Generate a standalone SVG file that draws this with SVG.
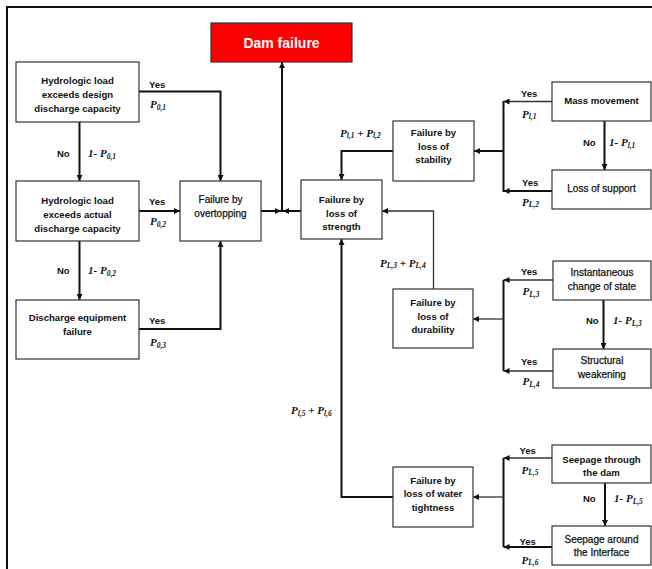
<svg xmlns="http://www.w3.org/2000/svg" width="652" height="569" viewBox="0 0 652 569">
<defs>
<marker id="ah" viewBox="0 0 7 7" refX="7" refY="3.5" markerWidth="7" markerHeight="6" markerUnits="userSpaceOnUse" orient="auto">
<path d="M0,0 L7,3.5 L0,7 z" fill="#111"/>
</marker>
</defs>
<style>
.box{fill:#fff;stroke:#333;stroke-width:1.2}
.t{font-family:"Liberation Sans",Arial,sans-serif;font-size:10px;fill:#111;text-anchor:middle}
.b{font-weight:bold;font-size:9.6px}
.r{font-weight:normal;stroke:#111;stroke-width:0.25}
.lab{font-family:"Liberation Sans",Arial,sans-serif;font-size:9.5px;font-weight:bold;fill:#111}
.p{font-family:"Liberation Serif","Times New Roman",serif;font-size:11px;font-weight:bold;font-style:italic;fill:#111}
.s{font-size:7.5px}
.c{fill:none;stroke:#111;stroke-width:2}
.c1{fill:none;stroke:#333;stroke-width:1.3}
</style>
<rect width="652" height="569" fill="#fff"/>
<path d="M7,569 V7 H652" fill="none" stroke="#111" stroke-width="2"/>

<g id="connectors">
<path class="c" d="M139,91.5 H220.5 V181" marker-end="url(#ah)"/>
<path class="c" d="M79.5,122 V181" marker-end="url(#ah)"/>
<path class="c" d="M139,211 H180" marker-end="url(#ah)"/>
<path class="c" d="M79.5,241 V300" marker-end="url(#ah)"/>
<path class="c" d="M139,329 H220.5 V241" marker-end="url(#ah)"/>
<path class="c" d="M261,211 H281" marker-end="url(#ah)"/>
<path class="c" d="M301,211 H283" marker-end="url(#ah)"/>
<path class="c" d="M282,212 V62" marker-end="url(#ah)"/>
<path class="c" d="M393,151 H341.5 V180" marker-end="url(#ah)"/>
<path class="c" d="M503.5,101 V192"/>
<path class="c" d="M503.5,151 H474" marker-end="url(#ah)"/>
<path class="c1" d="M552,101.5 H503.5" marker-end="url(#ah)"/>
<path class="c" d="M604.5,121 V170" marker-end="url(#ah)"/>
<path class="c" d="M552,191 H503.5" marker-end="url(#ah)"/>
<path class="c1" d="M433.5,289 V211 H382" marker-end="url(#ah)"/>
<path class="c" d="M503.5,280 V371"/>
<path class="c1" d="M503.5,319 H473" marker-end="url(#ah)"/>
<path class="c1" d="M553,280 H503.5" marker-end="url(#ah)"/>
<path class="c" d="M603.5,300 V349" marker-end="url(#ah)"/>
<path class="c1" d="M553,371 H503.5" marker-end="url(#ah)"/>
<path class="c" d="M393,497 H341.5 V239" marker-end="url(#ah)"/>
<path class="c" d="M503.5,458 V547"/>
<path class="c1" d="M503.5,497 H473" marker-end="url(#ah)"/>
<path class="c1" d="M552,458 H503.5" marker-end="url(#ah)"/>
<path class="c" d="M605,483 V526" marker-end="url(#ah)"/>
<path class="c" d="M552,547 H503.5" marker-end="url(#ah)"/>
</g>

<g id="edge-labels">
<text class="lab" x="149" y="88">Yes</text>
<text class="p" x="150" y="108">P<tspan class="s" dy="1.5">0,1</tspan></text>
<text class="lab" x="57" y="157">No</text>
<text class="p" x="88" y="157">1- P<tspan class="s" dy="1.5">0,1</tspan></text>
<text class="lab" x="149" y="205">Yes</text>
<text class="p" x="150" y="225">P<tspan class="s" dy="1.5">0,2</tspan></text>
<text class="lab" x="57" y="274">No</text>
<text class="p" x="88" y="274">1- P<tspan class="s" dy="1.5">0,2</tspan></text>
<text class="lab" x="149" y="324">Yes</text>
<text class="p" x="150" y="346">P<tspan class="s" dy="1.5">0,3</tspan></text>

<text class="p" x="340" y="136.5">P<tspan class="s" dy="1.5">l,1</tspan><tspan dy="-1.5"> + P</tspan><tspan class="s" dy="1.5">l,2</tspan></text>
<text class="lab" x="521" y="97">Yes</text>
<text class="p" x="522" y="117.5">P<tspan class="s" dy="1.5">l,1</tspan></text>
<text class="lab" x="583" y="146">No</text>
<text class="p" x="609" y="146">1- P<tspan class="s" dy="1.5">l,1</tspan></text>
<text class="lab" x="522" y="185.5">Yes</text>
<text class="p" x="522" y="205.5">P<tspan class="s" dy="1.5">L,2</tspan></text>

<text class="p" x="380" y="266.5">P<tspan class="s" dy="1.5">L,3</tspan><tspan dy="-1.5"> + P</tspan><tspan class="s" dy="1.5">L,4</tspan></text>
<text class="lab" x="521" y="275">Yes</text>
<text class="p" x="522.5" y="295">P<tspan class="s" dy="1.5">L,3</tspan></text>
<text class="lab" x="586" y="324">No</text>
<text class="p" x="613" y="324">1- P<tspan class="s" dy="1.5">L,3</tspan></text>
<text class="lab" x="521" y="364.5">Yes</text>
<text class="p" x="522.5" y="385">P<tspan class="s" dy="1.5">L,4</tspan></text>

<text class="p" x="291" y="414">P<tspan class="s" dy="1.5">l,5</tspan><tspan dy="-1.5"> + P</tspan><tspan class="s" dy="1.5">l,6</tspan></text>
<text class="lab" x="519.5" y="453.5">Yes</text>
<text class="p" x="521.5" y="473.5">P<tspan class="s" dy="1.5">L,5</tspan></text>
<text class="lab" x="583" y="502">No</text>
<text class="p" x="614" y="502">1- P<tspan class="s" dy="1.5">L,5</tspan></text>
<text class="lab" x="519.5" y="545">Yes</text>
<text class="p" x="521.5" y="563.5">P<tspan class="s" dy="1.5">L,6</tspan></text>
</g>

<g id="dam-failure">
<rect x="211" y="23" width="141" height="39" fill="#ff0000" stroke="#333" stroke-width="1.2"/>
<text x="281.5" y="47.5" font-family="Liberation Sans, Arial, sans-serif" font-size="14" font-weight="bold" fill="#fff" text-anchor="middle">Dam failure</text>
</g>

<g id="hydro-design">
<rect class="box" x="16" y="62" width="123" height="60"/>
<text class="t b" x="77.5" y="84">Hydrologic load</text>
<text class="t b" x="77.5" y="98">exceeds design</text>
<text class="t b" x="77.5" y="112">discharge capacity</text>
</g>

<g id="hydro-actual">
<rect class="box" x="16" y="181" width="123" height="60"/>
<text class="t b" x="77.5" y="203.5">Hydrologic load</text>
<text class="t b" x="77.5" y="217.5">exceeds actual</text>
<text class="t b" x="77.5" y="231.5">discharge capacity</text>
</g>

<g id="discharge-equipment">
<rect class="box" x="16" y="300" width="123" height="59"/>
<text class="t b" x="77.5" y="321">Discharge equipment</text>
<text class="t b" x="77.5" y="334.5">failure</text>
</g>

<g id="overtopping">
<rect class="box" x="180" y="181" width="81" height="60"/>
<text class="t r" x="220.5" y="203">Failure by</text>
<text class="t r" x="220.5" y="216.5">overtopping</text>
</g>

<g id="strength">
<rect class="box" x="301" y="180" width="81" height="59"/>
<text class="t b" x="341.5" y="203">Failure by</text>
<text class="t b" x="341.5" y="216.5">loss of</text>
<text class="t b" x="341.5" y="230">strength</text>
</g>

<g id="stability">
<rect class="box" x="393" y="121" width="81" height="60"/>
<text class="t b" x="433.5" y="135.5">Failure by</text>
<text class="t b" x="433.5" y="149.5">loss of</text>
<text class="t b" x="433.5" y="163">stability</text>
</g>

<g id="mass-movement">
<rect class="box" x="552" y="82" width="99" height="39"/>
<text class="t b" x="601.5" y="104">Mass movement</text>
</g>

<g id="loss-support">
<rect class="box" x="552" y="170" width="99" height="39"/>
<text class="t r" x="601.5" y="192">Loss of support</text>
</g>

<g id="durability">
<rect class="box" x="393" y="289" width="80" height="59"/>
<text class="t b" x="433" y="306">Failure by</text>
<text class="t b" x="433" y="319.5">loss of</text>
<text class="t b" x="433" y="333">durability</text>
</g>

<g id="instantaneous">
<rect class="box" x="553" y="261" width="98" height="39"/>
<text class="t r" x="602" y="276">Instantaneous</text>
<text class="t r" x="602" y="289.5">change of state</text>
</g>

<g id="structural">
<rect class="box" x="553" y="349" width="98" height="39"/>
<text class="t r" x="602" y="364">Structural</text>
<text class="t r" x="602" y="378">weakening</text>
</g>

<g id="water-tightness">
<rect class="box" x="393" y="467" width="80" height="60"/>
<text class="t b" x="433" y="483.5">Failure by</text>
<text class="t b" x="433" y="497">loss of water</text>
<text class="t b" x="433" y="510.5">tightness</text>
</g>

<g id="seepage-dam">
<rect class="box" x="552" y="445" width="99" height="38"/>
<text class="t b" x="601.5" y="463">Seepage through</text>
<text class="t b" x="601.5" y="475.5">the dam</text>
</g>

<g id="seepage-interface">
<rect class="box" x="552" y="526" width="99" height="39"/>
<text class="t r" x="601.5" y="542.5">Seepage around</text>
<text class="t r" x="601.5" y="556">the Interface</text>
</g>
</svg>
